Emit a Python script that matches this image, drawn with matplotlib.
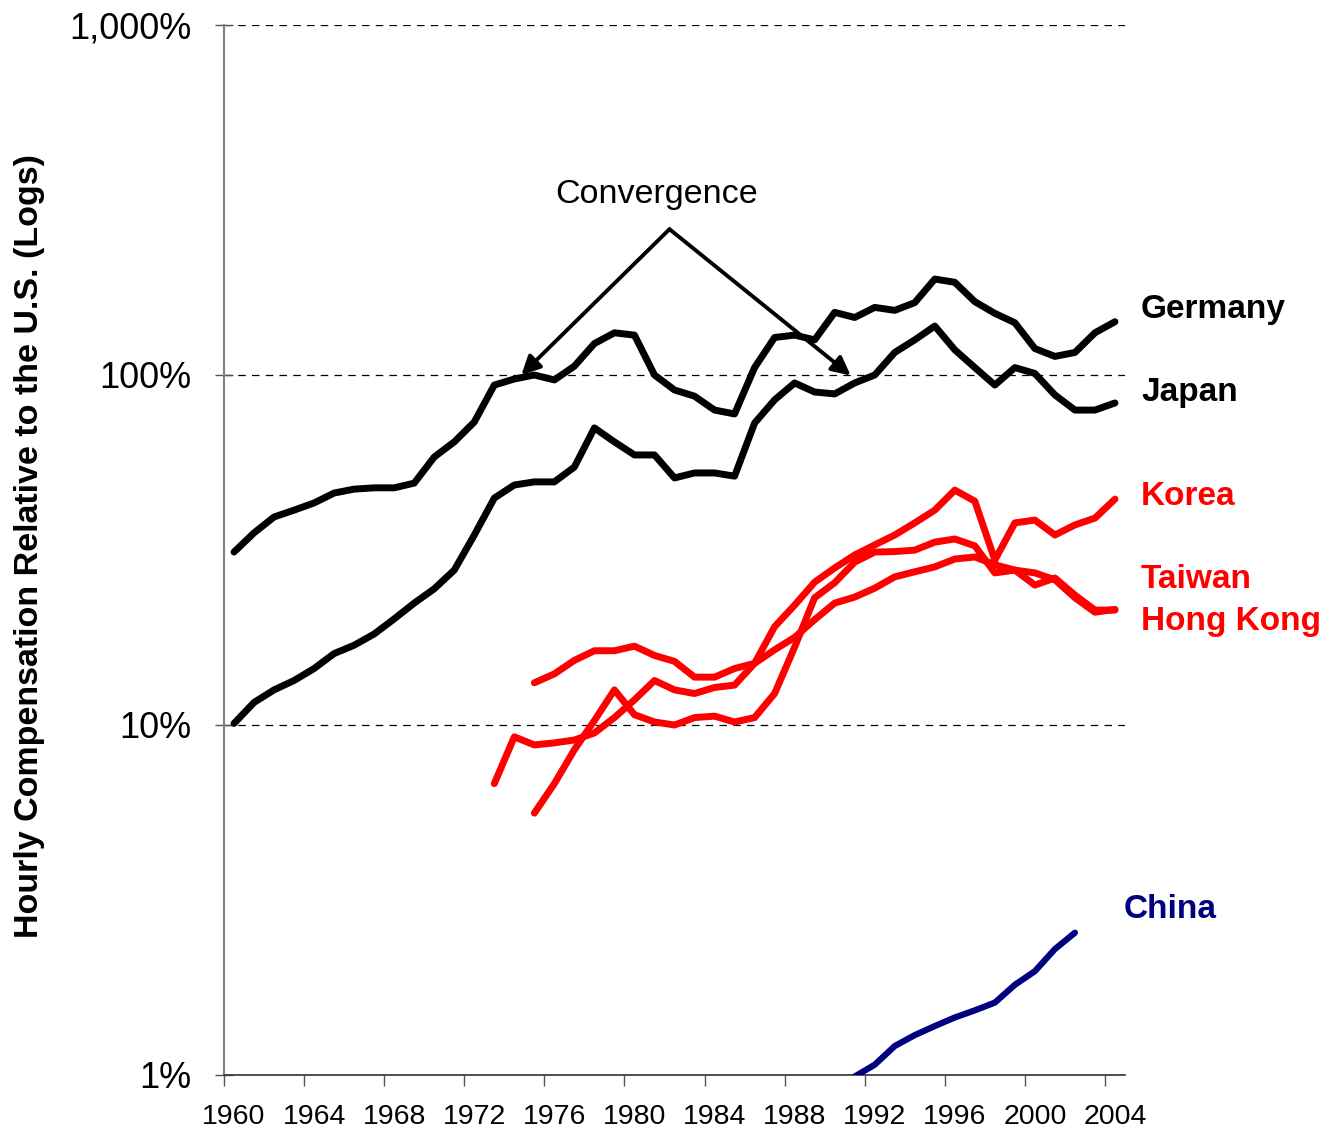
import matplotlib
matplotlib.use("Agg")
import matplotlib.pyplot as plt
import matplotlib.ticker as mticker
from matplotlib.transforms import blended_transform_factory
import numpy as np

plt.rcParams['font.family'] = ['Liberation Sans', 'DejaVu Sans']

# ---------------- data (percent of U.S. hourly compensation) ----------------
years_germany = list(range(1960, 2005))
germany = [31.2, 35.4, 39.3, 41.1, 43.1, 46.0, 47.2, 47.6, 47.6, 49.1,
           58.3, 64.4, 73.4, 93.6, 97.4, 100, 96.8, 106, 123, 132,
           130, 100, 90.6, 87.0, 79.4, 77.4, 105, 128, 130, 126,
           151, 146, 156, 153, 161, 188, 184, 162, 150, 141,
           119, 113, 116, 132, 142]

years_japan = list(range(1960, 2005))
japan = [10.1, 11.6, 12.6, 13.4, 14.5, 16.0, 16.9, 18.2, 20.1, 22.3,
         24.5, 27.7, 34.9, 44.5, 48.5, 49.5, 49.5, 54.6, 70.6, 64.4,
         59.1, 59.1, 50.8, 52.5, 52.5, 51.4, 72.9, 84.9, 94.9, 89.4,
         88.3, 94.9, 100, 116, 126, 138, 118, 105, 93.6, 105,
         101, 87.7, 79.4, 79.4, 83.2]

years_korea = list(range(1973, 2005))
korea = [6.8, 9.25, 8.77, 8.89, 9.06, 9.49, 10.5, 11.8, 13.4, 12.6,
         12.3, 12.8, 13.0, 15.0, 19.1, 22.0, 25.6, 28.1, 30.6, 32.7,
         34.9, 37.8, 41.1, 46.9, 43.6, 29.6, 37.8, 38.5, 34.9, 37.3,
         39.0, 44.2]

years_hongkong = list(range(1975, 2005))
hongkong = [13.2, 14.0, 15.3, 16.3, 16.3, 16.8, 15.8, 15.2, 13.7, 13.7,
            14.5, 15.0, 16.4, 17.8, 20.0, 22.3, 23.2, 24.6, 26.5, 27.4,
            28.3, 29.8, 30.2, 28.7, 27.7, 27.2, 26.0, 23.1, 21.0, 21.4]

years_taiwan = list(range(1975, 2005))
taiwan = [5.6, 6.8, 8.5, 10.3, 12.6, 10.7, 10.2, 10.0, 10.5, 10.6,
          10.2, 10.5, 12.3, 16.7, 23.1, 25.5, 29.2, 31.2, 31.3, 31.6,
          33.3, 34.0, 32.5, 27.2, 27.7, 25.1, 26.3, 23.5, 21.3, 21.3]

years_china = list(range(1990, 2003))
china = [0.9, 0.99, 1.07, 1.21, 1.30, 1.38, 1.46, 1.53, 1.61, 1.81,
         1.98, 2.29, 2.55]

xtick_years = list(range(1960, 2005, 4))
ytick_values = [1, 10, 100, 1000]
ytick_labels = ['1%', '10%', '100%', '1,000%']

# ---------------- figure ----------------
W, H = 1327, 1133
fig = plt.figure(figsize=(W / 100, H / 100), dpi=100)
ax = fig.add_axes([224 / W, 58 / H, 901 / W, 1050 / H])

RED = '#FF0000'
NAVY = '#000080'
lw = 5.0
common = dict(solid_capstyle='round', solid_joinstyle='round', zorder=3)
ax.plot(years_germany, germany, color='black', lw=lw, **common)
ax.plot(years_japan, japan, color='black', lw=lw, **common)
ax.plot(years_korea, korea, color=RED, lw=lw, **common)
ax.plot(years_hongkong, hongkong, color=RED, lw=lw, **common)
ax.plot(years_taiwan, taiwan, color=RED, lw=lw, **common)
ax.plot(years_china, china, color=NAVY, lw=4.5, **common)

ax.set_yscale('log')
ax.set_ylim(1, 1000)
ax.set_xlim(1959.5, 2004.5)

ax.yaxis.set_major_locator(mticker.FixedLocator(ytick_values))
ax.yaxis.set_major_formatter(mticker.FixedFormatter(ytick_labels))
ax.yaxis.set_minor_locator(mticker.NullLocator())
ax.tick_params(axis='y', which='major', direction='inout', length=13,
               width=1.0, color='#555555', pad=17, labelsize=26)

ax.xaxis.set_major_locator(mticker.FixedLocator(xtick_years))
ax.xaxis.set_major_formatter(mticker.FixedFormatter([str(y) for y in xtick_years]))
ax.xaxis.set_minor_locator(mticker.FixedLocator([y - 0.5 for y in xtick_years]))
ax.tick_params(axis='x', which='major', length=0, pad=21, labelsize=20.5)
ax.tick_params(axis='x', which='minor', direction='out', length=8,
               width=1.0, color='#555555')

ax.yaxis.grid(True, which='major', linestyle=(0, (6, 5)), color='black', lw=0.9)
ax.set_axisbelow(True)

for s in ('top', 'right'):
    ax.spines[s].set_visible(False)
ax.spines['left'].set_color('#808080')
ax.spines['left'].set_linewidth(1.5)
ax.spines['bottom'].set_color('#333333')
ax.spines['bottom'].set_linewidth(1.2)

fig.text(30 / W, 1 - 546 / H, 'Hourly Compensation Relative to the U.S. (Logs)',
         rotation=90, ha='center', va='center', fontsize=24.5, fontweight='bold')

# annotation
apex = (1981.75, 261)
ax.text(1981.1, 327, 'Convergence', ha='center', va='center', fontsize=24.5)
for tip in [(1974.35, 100), (1990.8, 99.7)]:
    ax.annotate('', xy=tip, xytext=apex,
                arrowprops=dict(arrowstyle='-|>', lw=2.8, color='black',
                                mutation_scale=28, shrinkA=0, shrinkB=0),
                zorder=4)

# series labels
tr = blended_transform_factory(ax.transAxes, ax.transData)
lab = dict(transform=tr, ha='left', va='center', fontsize=24,
           fontweight='bold', clip_on=False)
ax.text(1.0178, 154, 'Germany', color='black', **lab)
ax.text(1.0178, 89.4, 'Japan', color='black', **lab)
ax.text(1.0178, 45.1, 'Korea', color=RED, **lab)
ax.text(1.0178, 26.1, 'Taiwan', color=RED, **lab)
ax.text(1.0178, 19.8, 'Hong Kong', color=RED, **lab)
ax.text(0.9989, 2.98, 'China', color=NAVY, **lab)

fig.savefig('out.png', dpi=100)
